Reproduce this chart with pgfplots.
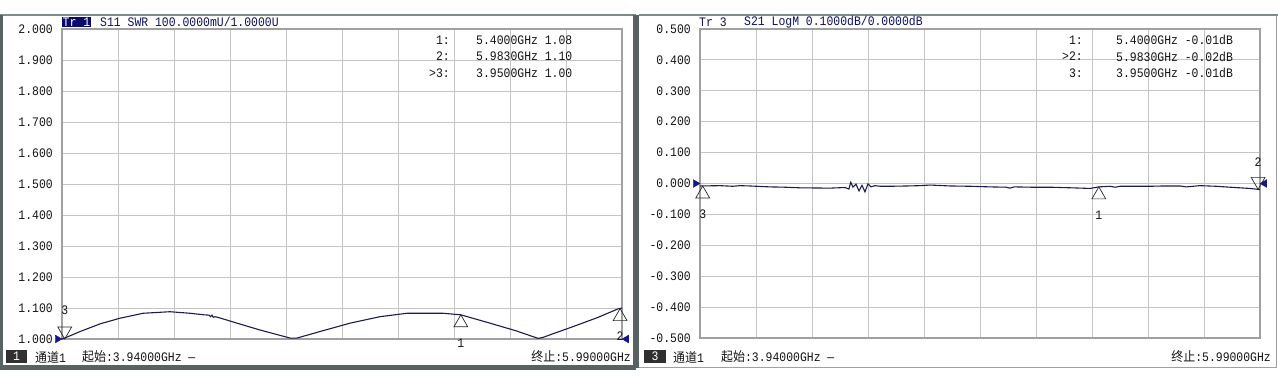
\documentclass[border=0pt]{standalone}
\usepackage{pgfplots}
\pgfplotsset{compat=1.18}
\usepackage{fontspec}
\setmainfont{Liberation Mono}[FakeStretch=0.88]
\newfontfamily\cjk{Noto Sans CJK SC}[FakeStretch=0.92]
\newcommand\fs{\fontsize{13}{14}\selectfont}
\definecolor{curvec}{RGB}{28,28,80}
\definecolor{gridc}{RGB}{196,196,196}
\definecolor{framec}{RGB}{160,160,160}
\definecolor{refc}{RGB}{20,20,140}
\definecolor{hlc}{RGB}{10,10,110}
\definecolor{navyt}{RGB}{16,16,96}
\definecolor{txt}{RGB}{20,20,20}
\definecolor{paneld}{RGB}{88,98,98}
\definecolor{panelt}{RGB}{120,140,140}
\definecolor{boxc}{RGB}{48,48,48}
\definecolor{mkc}{RGB}{40,40,40}

\pgfplotsset{
  panel/.style={
    scale only axis, width=560pt, height=310pt,
    xmin=3.94, xmax=5.99,
    xtick={3.94,4.145,4.35,4.555,4.76,4.965,5.17,5.375,5.58,5.785,5.99},
    xticklabels={},
    grid=major,
    major grid style={color=gridc, line width=0.9pt},
    axis line style={color=framec, line width=1.5pt},
    tick style={draw=none},
    clip=false,
    yticklabel style={font=\fs, text=txt, anchor=east, inner sep=0pt, xshift=-9pt},
    axis background/.style={fill=white},
  },
  crv/.style={color=curvec, line width=1.1pt, mark=none},
  mup/.style={only marks, mark=triangle, mark size=8pt,
     mark options={draw=mkc, line width=0.7pt, yshift=-8pt},
     every node near coord/.append style={anchor=center, yshift=-20pt, font=\fs, text=txt}},
  mdn/.style={only marks, mark=triangle, mark size=8pt,
     mark options={draw=mkc, line width=0.7pt, yshift=8pt, rotate=180},
     every node near coord/.append style={anchor=center, yshift=#1, font=\fs, text=txt}},
  refl/.style={only marks, mark=triangle*, mark size=4.5pt,
     mark options={fill=refc, draw=refc, xshift=-4.5pt, rotate=-90}},
  refr/.style={only marks, mark=triangle*, mark size=4.5pt,
     mark options={fill=refc, draw=refc, xshift=4.5pt, rotate=90}},
}

\begin{document}
\begin{tikzpicture}
\path[use as bounding box] (0,0) rectangle (1278pt,-377pt);
\fill[white] (0,0) rectangle (1278pt,-377pt);

% ---------- left panel: S11 SWR ----------
\begin{axis}[panel, at={(62pt,-339pt)}, anchor=south west,
  ymin=1, ymax=2,
  ytick={1,1.1,1.2,1.3,1.4,1.5,1.6,1.7,1.8,1.9,2},
  yticklabels={1.000,1.100,1.200,1.300,1.400,1.500,1.600,1.700,1.800,1.900,2.000}]
\addplot[crv] coordinates {
(3.940,1.000) (3.950,1.003) (4.006,1.024) (4.080,1.049) (4.152,1.067)
(4.237,1.083) (4.335,1.088) (4.409,1.083) (4.460,1.078) (4.478,1.077)
(4.484,1.072) (4.489,1.077) (4.494,1.070) (4.500,1.072) (4.510,1.070)
(4.544,1.061) (4.600,1.046) (4.665,1.029) (4.720,1.016) (4.775,1.003)
(4.800,1.003) (4.884,1.024) (4.994,1.051) (5.104,1.072) (5.203,1.083)
(5.335,1.083) (5.400,1.078) (5.507,1.051) (5.600,1.027) (5.683,1.002)
(5.700,1.005) (5.811,1.040) (5.900,1.069) (5.975,1.097) (5.990,1.100)};
\addplot[refl] coordinates {(3.94,1.0)};
\addplot[refr] coordinates {(5.99,1.0)};
\addplot[mdn=21pt, nodes near coords={3}] coordinates {(3.95,1.0)};
\addplot[mup, nodes near coords={1}] coordinates {(5.40,1.078)};
\addplot[mup, nodes near coords={2}] coordinates {(5.983,1.098)};
\end{axis}

% ---------- right panel: S21 LogM ----------
\begin{axis}[panel, at={(700pt,-338pt)}, anchor=south west, height=309pt,
  ymin=-0.5, ymax=0.5,
  ytick={-0.5,-0.4,-0.3,-0.2,-0.1,0,0.1,0.2,0.3,0.4,0.5},
  yticklabels={-0.500,-0.400,-0.300,-0.200,-0.100,0.000,0.100,0.200,0.300,0.400,0.500}]
\addplot[crv] coordinates {
(3.940,-0.008) (4.013,-0.007) (4.060,-0.009) (4.086,-0.007) (4.123,-0.008)
(4.196,-0.011) (4.250,-0.012) (4.306,-0.014) (4.416,-0.015) (4.471,-0.013)
(4.485,-0.018) (4.492,0.004) (4.500,-0.012) (4.511,-0.002) (4.522,-0.024)
(4.533,-0.006) (4.544,-0.027) (4.555,-0.001) (4.566,-0.011) (4.580,-0.007)
(4.600,-0.009) (4.636,-0.009) (4.700,-0.008) (4.745,-0.007) (4.782,-0.005)
(4.855,-0.008) (4.930,-0.009) (5.002,-0.011) (5.060,-0.012) (5.075,-0.015)
(5.090,-0.011) (5.150,-0.012) (5.221,-0.012) (5.300,-0.014) (5.368,-0.016)
(5.400,-0.011) (5.440,-0.009) (5.460,-0.012) (5.478,-0.009) (5.530,-0.009)
(5.587,-0.009) (5.640,-0.008) (5.697,-0.008) (5.720,-0.011) (5.770,-0.007)
(5.830,-0.009) (5.880,-0.012) (5.953,-0.016) (5.983,-0.019) (5.990,-0.020)};
\addplot[refl] coordinates {(3.94,0)};
\addplot[refr] coordinates {(5.99,0)};
\addplot[mup, nodes near coords={3}] coordinates {(3.95,-0.008)};
\addplot[mup, nodes near coords={1}] coordinates {(5.40,-0.011)};
\addplot[mdn=19pt, nodes near coords={2}] coordinates {(5.983,-0.019)};
\end{axis}

\begin{scope}[x=1pt,y=-1pt]
% panel frames
\draw[panelt, line width=2pt] (0,15) -- (636,15);
\draw[paneld, line width=3pt] (1.5,15) -- (1.5,367.5);
\draw[paneld, line width=5pt] (0,367.5) -- (636,367.5);
\draw[paneld, line width=6pt] (636,15) -- (636,368);
\draw[panelt, line width=2pt] (639,15) -- (1278,15);
\draw[framec, line width=1pt] (1276.5,15) -- (1276.5,367);
\draw[framec, line width=1pt] (639,367) -- (1277,367);

\begin{scope}[every node/.style={inner sep=0pt, font=\fs, text=txt}]
% headers
\node[anchor=west, fill=hlc, text=white, inner xsep=0.5pt, inner ysep=1pt] at (62,22) {Tr 1};
\node[anchor=west, text=navyt] at (100,22) {S11 SWR 100.0000mU/1.0000U};
\node[anchor=west, text=navyt] at (699,22) {Tr 3};
\node[anchor=west, text=navyt] at (744,22) {S21 LogM 0.1000dB/0.0000dB};
% marker tables
\node[anchor=east] at (450,40) {1:};
\node[anchor=west] at (476,40) {5.4000GHz 1.08};
\node[anchor=east] at (450,56.5) {2:};
\node[anchor=west] at (476,56.5) {5.9830GHz 1.10};
\node[anchor=east] at (450,73) {>3:};
\node[anchor=west] at (476,73) {3.9500GHz 1.00};
\node[anchor=east] at (1083,40) {1:};
\node[anchor=west] at (1116,40) {5.4000GHz -0.01dB};
\node[anchor=east] at (1083,56.5) {>2:};
\node[anchor=west] at (1116,56.5) {5.9830GHz -0.02dB};
\node[anchor=east] at (1083,73) {3:};
\node[anchor=west] at (1116,73) {3.9500GHz -0.01dB};
% status bars
\node[fill=boxc, text=white, minimum width=21pt, minimum height=13pt] at (16.5,356.5) {1};
\node[anchor=west] at (35,357) {{\cjk 通道}1};
\node[anchor=west] at (82,357) {{\cjk 起始}:3.94000GHz —};
\node[anchor=east] at (631,357) {{\cjk 终止}:5.99000GHz};
\node[fill=boxc, text=white, minimum width=22pt, minimum height=13pt] at (655,356.5) {3};
\node[anchor=west] at (673,357) {{\cjk 通道}1};
\node[anchor=west] at (721,357) {{\cjk 起始}:3.94000GHz —};
\node[anchor=east] at (1271,357) {{\cjk 终止}:5.99000GHz};
\end{scope}
\end{scope}
\end{tikzpicture}
\end{document}
